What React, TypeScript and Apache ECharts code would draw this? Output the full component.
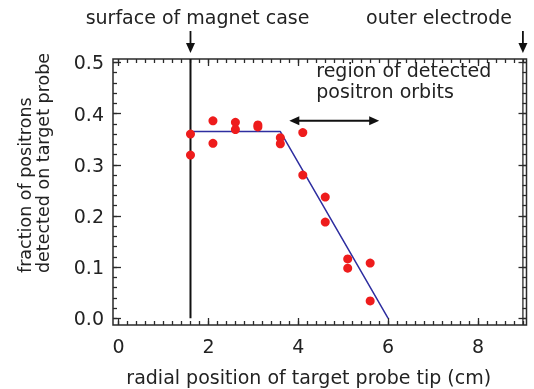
import React, { useEffect, useRef } from "react";
import * as echarts from "echarts";

// measured data (radial position cm, fraction)
const pointX = [1.6, 1.6, 2.1, 2.1, 2.6, 2.6, 3.1, 3.1, 3.6, 3.6, 4.1, 4.1, 4.6, 4.6, 5.1, 5.1, 5.6, 5.6];
const pointY = [0.360, 0.319, 0.386, 0.342, 0.383, 0.369, 0.378, 0.374, 0.353, 0.341, 0.363, 0.280, 0.237, 0.188, 0.116, 0.098, 0.108, 0.034];

// fitted model line
const fitX = [1.6, 3.6, 6.0];
const fitY = [0.365, 0.365, 0.0];

// reference positions
const magnetCaseX = 1.6;
const outerElectrodeX = 9.0;
const regionArrowX = [3.8, 5.8];
const regionArrowY = 0.386;

// ticks
const xTickLabels = [0, 2, 4, 6, 8];
const yTickLabels = [0, 0.1, 0.2, 0.3, 0.4, 0.5];
const xMinorStep = 0.2;
const yMinorStep = 0.02;

const X_MIN = -0.125;
const X_MAX = 9.08;
const Y_MIN = -0.0131;
const Y_MAX = 0.5068;

const FONT = "DejaVu Sans";
const TXT = "#222222";
const AX = "#2a2a2a";

function App() {
  const ref = useRef<HTMLDivElement>(null);

  useEffect(() => {
    if (!ref.current) return;
    const chart = echarts.init(ref.current, null, { renderer: "svg" });

    const xMinor: number[] = [];
    for (let i = 0; i * xMinorStep <= 9.0001; i++) xMinor.push(+(i * xMinorStep).toFixed(3));
    const yMinor: number[] = [];
    for (let i = 0; i * yMinorStep <= 0.5001; i++) yMinor.push(+(i * yMinorStep).toFixed(3));

    const mkX = (position: string, ticks: number[], len: number, labels: boolean) => ({
      type: "value",
      position,
      min: X_MIN,
      max: X_MAX,
      splitLine: { show: false },
      axisLine: { show: false, onZero: false },
      axisTick: {
        show: true,
        inside: true,
        length: len,
        customValues: ticks,
        lineStyle: { color: AX, width: 1.3 },
      },
      axisLabel: labels
        ? {
            show: true,
            customValues: xTickLabels,
            fontFamily: FONT,
            fontSize: 19,
            color: TXT,
            margin: 11,
          }
        : { show: false },
    });
    const mkY = (position: string, ticks: number[], len: number, labels: boolean) => ({
      type: "value",
      position,
      min: Y_MIN,
      max: Y_MAX,
      splitLine: { show: false },
      axisLine: { show: false, onZero: false },
      axisTick: {
        show: true,
        inside: true,
        length: len,
        customValues: ticks,
        lineStyle: { color: AX, width: 1.3 },
      },
      axisLabel: labels
        ? {
            show: true,
            customValues: yTickLabels,
            formatter: (v: number) => v.toFixed(1),
            fontFamily: FONT,
            fontSize: 19,
            color: TXT,
            margin: 9,
          }
        : { show: false },
    });

    chart.setOption({
      animation: false,
      grid: {
        show: true,
        left: 113,
        right: 7.5,
        top: 59,
        bottom: 64,
        borderColor: AX,
        borderWidth: 1.5,
        backgroundColor: "transparent",
      },
      xAxis: [
        mkX("bottom", xTickLabels, 7, true),
        mkX("bottom", xMinor, 4, false),
        mkX("top", xTickLabels, 7, false),
        mkX("top", xMinor, 4, false),
      ],
      yAxis: [
        mkY("left", yTickLabels, 8, true),
        mkY("left", yMinor, 4, false),
        mkY("right", yTickLabels, 8, false),
        mkY("right", yMinor, 4, false),
      ],
      series: [
        {
          type: "line",
          data: [
            [magnetCaseX, 0],
            [magnetCaseX, Y_MAX],
          ],
          symbol: "none",
          lineStyle: { color: "#111", width: 2 },
          z: 2,
        },
        {
          type: "line",
          data: [
            [outerElectrodeX, Y_MIN],
            [outerElectrodeX, Y_MAX],
          ],
          symbol: "none",
          lineStyle: { color: AX, width: 1.3 },
          z: 2,
        },
        {
          type: "line",
          data: fitX.map((x, i) => [x, fitY[i]]),
          symbol: "none",
          lineStyle: { color: "#2e2ea0", width: 1.5 },
          z: 3,
        },
        {
          type: "scatter",
          data: pointX.map((x, i) => [x, pointY[i]]),
          symbol: "circle",
          symbolSize: 9,
          itemStyle: { color: "#ee1c1c", opacity: 1 },
          z: 4,
        },
      ],
    });

    const px = (x: number, y: number) =>
      chart.convertToPixel({ gridIndex: 0 }, [x, y]) as number[];

    const downArrow = (x: number) => {
      const cx = px(x, 0)[0];
      return [
        {
          type: "line",
          shape: { x1: cx, y1: 31, x2: cx, y2: 45 },
          style: { stroke: "#111", lineWidth: 1.8 },
        },
        {
          type: "polygon",
          shape: { points: [[cx - 4.5, 43], [cx + 4.5, 43], [cx, 53]] },
          style: { fill: "#111" },
        },
      ];
    };

    const [ax1, ay] = px(regionArrowX[0], regionArrowY);
    const ax2 = px(regionArrowX[1], regionArrowY)[0];
    const head = 10;
    const hw = 4.5;

    const textPos = px(4.4, 0.465);

    chart.setOption({
      graphic: [
        ...downArrow(magnetCaseX),
        ...downArrow(outerElectrodeX),
        {
          type: "line",
          shape: { x1: ax1 + head - 1, y1: ay, x2: ax2 - head + 1, y2: ay },
          style: { stroke: "#111", lineWidth: 2 },
        },
        {
          type: "polygon",
          shape: { points: [[ax1, ay], [ax1 + head, ay - hw], [ax1 + head, ay + hw]] },
          style: { fill: "#111" },
        },
        {
          type: "polygon",
          shape: { points: [[ax2, ay], [ax2 - head, ay - hw], [ax2 - head, ay + hw]] },
          style: { fill: "#111" },
        },
        {
          type: "text",
          x: textPos[0],
          y: textPos[1],
          style: {
            text: "region of detected\npositron orbits",
            fontFamily: FONT,
            fontSize: 19,
            lineHeight: 21,
            fill: TXT,
            align: "left",
            verticalAlign: "middle",
          },
        },
        {
          type: "text",
          x: 197.5,
          y: 16.5,
          style: {
            text: "surface of magnet case",
            fontFamily: FONT,
            fontSize: 19,
            fill: TXT,
            align: "center",
            verticalAlign: "middle",
          },
        },
        {
          type: "text",
          x: 439,
          y: 16.5,
          style: {
            text: "outer electrode",
            fontFamily: FONT,
            fontSize: 19,
            fill: TXT,
            align: "center",
            verticalAlign: "middle",
          },
        },
        {
          type: "text",
          x: 308.7,
          y: 377,
          style: {
            text: "radial position of target probe tip (cm)",
            fontFamily: FONT,
            fontSize: 19,
            fill: TXT,
            align: "center",
            verticalAlign: "middle",
          },
        },
        {
          type: "text",
          x: 34,
          y: 273,
          rotation: Math.PI / 2,
          style: {
            text: "fraction of positrons\ndetected on target probe",
            fontFamily: FONT,
            fontSize: 17.5,
            lineHeight: 18,
            fill: TXT,
            align: "left",
            verticalAlign: "middle",
          },
        },
      ],
    });

    return () => chart.dispose();
  }, []);

  return (
    <div
      ref={ref}
      style={{ position: "fixed", left: 0, top: 0, width: 534, height: 389 }}
    />
  );
}

export default App;
